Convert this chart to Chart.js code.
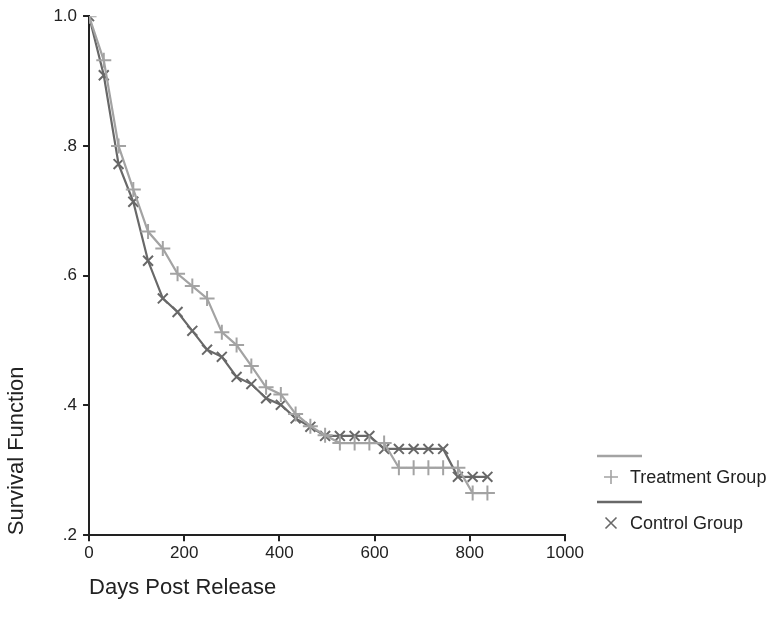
<!DOCTYPE html>
<html>
<head>
<meta charset="utf-8">
<script src="https://cdn.jsdelivr.net/npm/chart.js@4"></script>
<style>
  html, body { margin: 0; padding: 0; background: #fff; }
  #wrap { width: 772px; height: 627px; position: relative; }
</style>
</head>
<body>
<div id="wrap"><canvas id="chart" width="772" height="627"></canvas></div>
<script>
// Dias de seguimiento (un punto por mes aprox.)
const days = [0, 31, 62, 93, 124, 155, 186, 217, 248, 279, 310, 341, 372, 403,
  434, 465, 496, 527, 558, 589, 620, 651, 682, 713, 744, 775, 806, 837];

// Funcion de supervivencia por grupo
const treatment = [1.0, 0.932, 0.800, 0.733, 0.668, 0.642, 0.603, 0.584, 0.565, 0.513,
  0.493, 0.461, 0.428, 0.417, 0.387, 0.368, 0.354, 0.342, 0.342, 0.342,
  0.342, 0.304, 0.304, 0.304, 0.304, 0.304, 0.265, 0.265];
const control = [1.0, 0.909, 0.772, 0.714, 0.623, 0.565, 0.544, 0.515, 0.486, 0.475,
  0.444, 0.433, 0.411, 0.401, 0.380, 0.367, 0.353, 0.353, 0.353, 0.353,
  0.333, 0.333, 0.333, 0.333, 0.333, 0.290, 0.290, 0.290];

const seriesNames = ['Treatment Group', 'Control Group'];
const xTicks = [0, 200, 400, 600, 800, 1000];
const yTicks = [0.2, 0.4, 0.6, 0.8, 1.0];

const lightGray = '#a3a3a3';
const darkGray = '#686868';
const axisColor = '#222';
const fontFamily = '"Liberation Sans", Arial, sans-serif';

const toPoints = (vals) => vals.map((v, i) => ({ x: days[i], y: v }));

// Formato de las etiquetas del eje Y: 1.0, .8, .6 ...
const fmtY = (v) => {
  if (Math.abs(v - 1) < 1e-9) return '1.0';
  return '.' + Math.round(v * 10);
};

// Leyenda dibujada a mano (linea arriba, marcador + texto abajo)
const legendPlugin = {
  id: 'customLegend',
  afterDraw(chart) {
    const ctx = chart.ctx;
    const items = [
      { name: seriesNames[0], color: lightGray, style: 'plus', y: 456 },
      { name: seriesNames[1], color: darkGray, style: 'x', y: 502 }
    ];
    ctx.save();
    items.forEach(item => {
      ctx.strokeStyle = item.color;
      ctx.lineWidth = 2.5;
      ctx.beginPath();
      ctx.moveTo(597, item.y);
      ctx.lineTo(642, item.y);
      ctx.stroke();

      const mx = 611, my = item.y + 21;
      ctx.lineWidth = 1.6;
      ctx.beginPath();
      if (item.style === 'plus') {
        ctx.moveTo(mx - 7, my); ctx.lineTo(mx + 7, my);
        ctx.moveTo(mx, my - 7); ctx.lineTo(mx, my + 7);
      } else {
        ctx.moveTo(mx - 5.5, my - 5.5); ctx.lineTo(mx + 5.5, my + 5.5);
        ctx.moveTo(mx + 5.5, my - 5.5); ctx.lineTo(mx - 5.5, my + 5.5);
      }
      ctx.stroke();

      ctx.fillStyle = axisColor;
      ctx.font = '18px ' + fontFamily;
      ctx.textAlign = 'left';
      ctx.textBaseline = 'middle';
      ctx.fillText(item.name, 630, my + 1);
    });
    ctx.restore();
  }
};

const ctx = document.getElementById('chart');

new Chart(ctx, {
  type: 'scatter',
  data: {
    datasets: [
      {
        label: seriesNames[0],
        data: toPoints(treatment),
        showLine: true,
        borderColor: lightGray,
        borderWidth: 2.2,
        pointStyle: 'cross',
        pointRadius: 7.5,
        pointBorderWidth: 2,
        pointBorderColor: lightGray,
        pointBackgroundColor: lightGray
      },
      {
        label: seriesNames[1],
        data: toPoints(control),
        showLine: true,
        borderColor: darkGray,
        borderWidth: 2.2,
        pointStyle: 'crossRot',
        pointRadius: 7,
        pointBorderWidth: 2,
        pointBorderColor: darkGray,
        pointBackgroundColor: darkGray
      }
    ]
  },
  options: {
    responsive: false,
    animation: false,
    layout: {
      padding: { left: 4, right: 207, top: 14, bottom: 26 }
    },
    plugins: {
      legend: { display: false },
      tooltip: { enabled: false }
    },
    scales: {
      x: {
        type: 'linear',
        min: 0,
        max: 1000,
        afterBuildTicks: (axis) => { axis.ticks = xTicks.map(v => ({ value: v })); },
        border: { display: true, color: axisColor, width: 2 },
        grid: { drawOnChartArea: false, drawTicks: true, tickLength: 6, color: axisColor, lineWidth: 2 },
        ticks: {
          color: axisColor,
          font: { family: fontFamily, size: 17 },
          padding: 2,
          maxRotation: 0,
          callback: (v) => String(v)
        },
        title: {
          display: true,
          text: 'Days Post Release',
          align: 'start',
          color: axisColor,
          font: { family: fontFamily, size: 22 },
          padding: { top: 9, bottom: 0 }
        }
      },
      y: {
        type: 'linear',
        min: 0.2,
        max: 1.0,
        afterBuildTicks: (axis) => { axis.ticks = yTicks.map(v => ({ value: v })); },
        border: { display: true, color: axisColor, width: 2 },
        grid: { drawOnChartArea: false, drawTicks: true, tickLength: 6, color: axisColor, lineWidth: 2 },
        ticks: {
          color: axisColor,
          font: { family: fontFamily, size: 17 },
          padding: 6,
          callback: (v) => fmtY(v)
        },
        title: {
          display: true,
          text: 'Survival Function',
          align: 'start',
          color: axisColor,
          font: { family: fontFamily, size: 22 },
          padding: { top: 0, bottom: 17 }
        }
      }
    }
  },
  plugins: [legendPlugin]
});
</script>
</body>
</html>
